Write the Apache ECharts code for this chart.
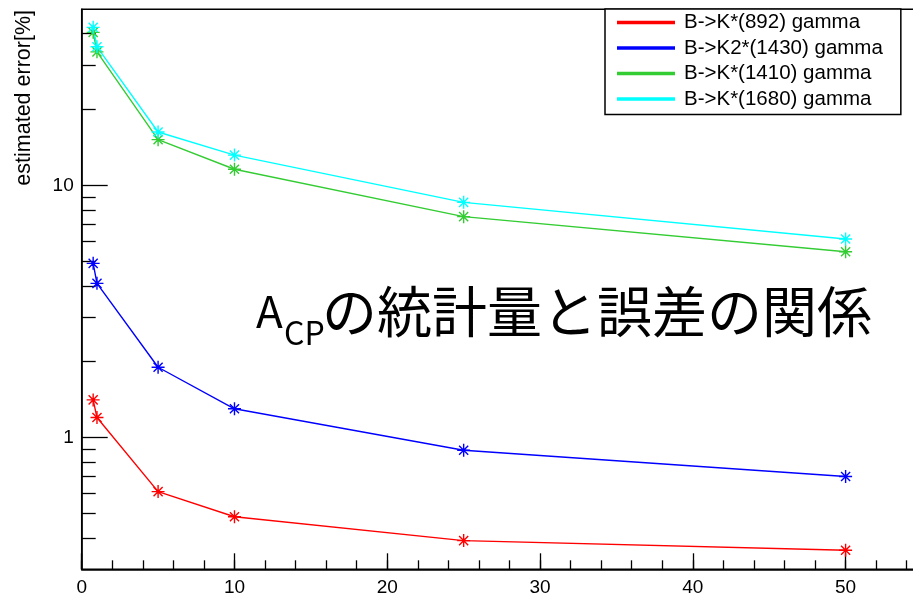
<!DOCTYPE html>
<html>
<head>
<meta charset="utf-8">
<script src="https://cdn.jsdelivr.net/npm/echarts@6/dist/echarts.min.js"></script>
<style>
  html, body { margin: 0; padding: 0; background: #fff; overflow: hidden; }
  #wrap { width: 913px; height: 593px; overflow: hidden; }
  /* the frame runs a little past the right edge of the view */
  #chart { width: 922px; height: 593px; }
</style>
</head>
<body>
<div id="wrap"><div id="chart"></div></div>
<script>
// Statistics (x) at which the error was estimated
const sampleSizes = [0.75, 1, 5, 10, 25, 50];

// Estimated error [%] per decay channel
const seriesNames = ['B->K*(892) gamma', 'B->K2*(1430) gamma', 'B->K*(1410) gamma', 'B->K*(1680) gamma'];
const errK892  = [1.41, 1.20, 0.61, 0.485, 0.39, 0.357];
const errK2    = [4.91, 4.09, 1.90, 1.30, 0.89, 0.70];
const errK1410 = [40.5, 33.9, 15.2, 11.6, 7.52, 5.46];
const errK1680 = [42.4, 35.5, 16.3, 13.2, 8.57, 6.13];

// Tick positions
const xMajorTicks = [0, 10, 20, 30, 40, 50];
const yMajorTicks = [1, 10];
const yMinorTicks = [0.4, 0.5, 0.6, 0.7, 0.8, 0.9, 2, 3, 4, 5, 6, 7, 8, 9, 20, 30, 40];

const colors = ['#ff0000', '#0000ff', '#33cc33', '#00ffff'];
const seriesData = [errK892, errK2, errK1410, errK1680];

// asterisk marker
const starSymbol = 'path://M6,0L6,12M0,6L12,6M1.8,1.8L10.2,10.2M10.2,1.8L1.8,10.2M5,5L7,5L7,7L5,7Z';

const latin = '"Liberation Sans", Arial, Helvetica, sans-serif';
const cjk = '"Noto Sans CJK JP", sans-serif';

const chart = echarts.init(document.getElementById('chart'), null, { renderer: 'canvas' });

const series = seriesNames.map((name, i) => ({
  name: name,
  type: 'line',
  xAxisIndex: 0,
  yAxisIndex: 0,
  data: sampleSizes.map((x, j) => [x, seriesData[i][j]]),
  symbol: starSymbol,
  symbolSize: 13,
  showAllSymbol: true,
  lineStyle: { color: colors[i], width: 1.4 },
  itemStyle: { color: colors[i], borderColor: colors[i], borderWidth: 1.4 },
  emphasis: { disabled: true },
  animation: false,
  z: 3
}));

const option = {
  animation: false,
  backgroundColor: '#fff',
  grid: {
    left: 81.7, top: 9.3, bottom: 23.7, right: 0,
    outerBoundsMode: 'none',
    containLabel: false,
    show: true, borderColor: '#000', borderWidth: 1.5, backgroundColor: 'transparent'
  },
  xAxis: [
    {
      type: 'value', min: 0, max: 55, interval: 10,
      axisLine: { show: true, onZero: false, lineStyle: { color: '#000', width: 1.5 } },
      axisTick: { show: true, inside: true, length: 16, customValues: xMajorTicks, lineStyle: { color: '#000', width: 1.3 } },
      axisLabel: { show: true, customValues: xMajorTicks, margin: 9, fontSize: 19, fontFamily: latin, color: '#000' },
      splitLine: { show: false }
    },
    {
      type: 'value', min: 0, max: 55, interval: 2, position: 'bottom', offset: 0,
      axisLine: { show: false },
      axisTick: { show: true, inside: true, length: 9, lineStyle: { color: '#000', width: 1.3 } },
      axisLabel: { show: false },
      splitLine: { show: false }
    }
  ],
  yAxis: [
    {
      type: 'log', logBase: 10, min: 0.3, max: 50,
      axisLine: { show: true, onZero: false, lineStyle: { color: '#000', width: 1.5 } },
      axisTick: { show: true, inside: true, length: 26, customValues: yMajorTicks, lineStyle: { color: '#000', width: 1.3 } },
      axisLabel: { show: true, customValues: yMajorTicks, margin: 8, fontSize: 19, fontFamily: latin, color: '#000' },
      splitLine: { show: false }
    },
    {
      type: 'log', logBase: 10, min: 0.3, max: 50, position: 'left', offset: 0,
      axisLine: { show: false },
      axisTick: { show: true, inside: true, length: 14, customValues: yMinorTicks, lineStyle: { color: '#000', width: 1.3 } },
      axisLabel: { show: false },
      splitLine: { show: false }
    }
  ],
  legend: {
    data: seriesNames,
    orient: 'vertical',
    left: 605, top: 9,
    icon: 'rect',
    itemWidth: 56, itemHeight: 1.5,
    itemGap: 4.5,
    padding: [3, 18, 5, 12],
    backgroundColor: '#fff',
    borderColor: '#000', borderWidth: 1.5, borderRadius: 0,
    textStyle: { fontSize: 20.5, lineHeight: 21, fontFamily: latin, color: '#000', padding: [0, 0, 0, 5] },
    selectedMode: false
  },
  graphic: [
    {
      type: 'text', x: 24, y: 10, rotation: Math.PI / 2,
      style: { text: 'estimated error[%]', fontSize: 21.5, fontFamily: latin, fill: '#000', align: 'right', verticalAlign: 'middle' }
    },
    {
      type: 'text', x: 256, y: 311,
      style: { text: 'A', fontSize: 44, fontFamily: cjk, fill: '#000', align: 'left', verticalAlign: 'middle' }
    },
    {
      type: 'text', x: 284, y: 333,
      style: { text: 'CP', fontSize: 32, fontFamily: cjk, fill: '#000', align: 'left', verticalAlign: 'middle' }
    },
    {
      type: 'text', x: 322, y: 311,
      style: { text: 'の統計量と誤差の関係', fontSize: 55, fontFamily: cjk, fill: '#000', align: 'left', verticalAlign: 'middle' }
    }
  ],
  series: series
};

chart.setOption(option);
</script>
</body>
</html>
